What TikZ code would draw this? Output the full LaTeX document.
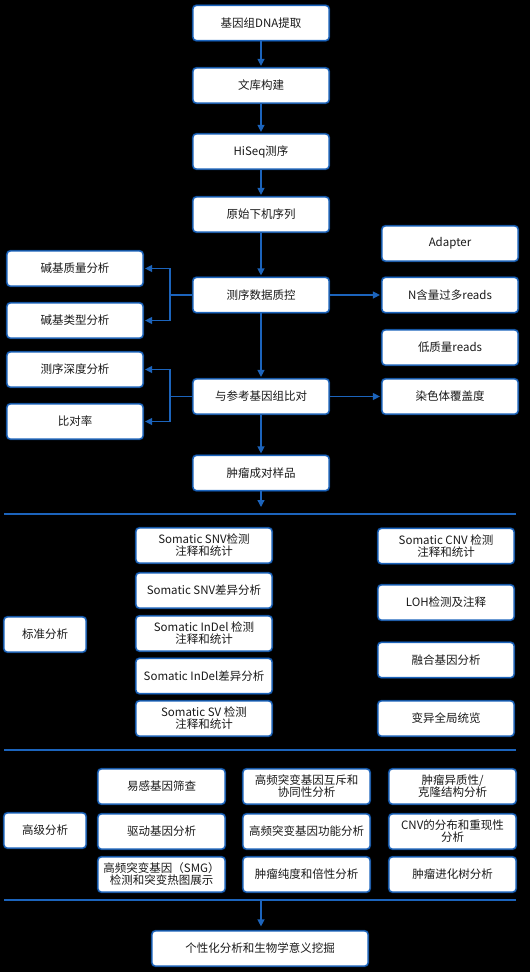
\documentclass[tikz,border=0pt]{standalone}
\usepackage{fontspec}
\setmainfont{Noto Sans CJK SC}
\usetikzlibrary{arrows.meta}
\definecolor{bblue}{HTML}{1C64BC}
\definecolor{bdark}{HTML}{0A3A74}
\definecolor{txt}{HTML}{1A1A1A}
\begin{document}
\begin{tikzpicture}[x=1pt,y=-1pt,
  box/.style={rectangle, rounded corners=3.5pt, fill=white, draw=bblue, line width=1.2pt,
    preaction={draw=bdark, line width=2.4pt},
    minimum height=35pt, inner sep=1pt, align=center, text=txt,
    font=\fontsize{11.5pt}{12pt}\selectfont},
  mw/.style={box, minimum width=136pt},
  cw/.style={box, minimum width=127pt},
  lw/.style={box, minimum width=82pt},
  conn/.style={draw=bblue, line width=1.3pt},
  arr/.style={conn, -{Triangle[length=7pt,width=7pt]}, shorten >=1.5pt},
  sep/.style={draw=bblue, line width=1.5pt}]
\fill[black] (0,0) rectangle (530,972);
\useasboundingbox (0,0) rectangle (530,972);

% main column
\node[mw] (n1) at (261,23) {基因组DNA提取};
\node[mw] (n2) at (261,85.5) {文库构建};
\node[mw] (n3) at (261,151.5) {HiSeq测序};
\node[mw] (n4) at (261,214.5) {原始下机序列};
\node[mw] (n5) at (261,295) {测序数据质控};
\node[mw] (n6) at (261,396.5) {与参考基因组比对};
\node[mw] (n7) at (261,473) {肿瘤成对样品};

% left column
\node[mw] (l1) at (75,268.5) {碱基质量分析};
\node[mw] (l2) at (75,320.5) {碱基类型分析};
\node[mw] (l3) at (75,369.5) {测序深度分析};
\node[mw] (l4) at (75,421.5) {比对率};

% right column
\node[mw] (r1) at (450,243.5) {Adapter};
\node[mw] (r2) at (450,295) {N含量过多reads};
\node[mw] (r3) at (450,347.5) {低质量reads};
\node[mw] (r4) at (450,396.5) {染色体覆盖度};

% vertical arrows
\draw[arr] (n1) -- (n2);
\draw[arr] (n2) -- (n3);
\draw[arr] (n3) -- (n4);
\draw[arr] (n4) -- (n5);
\draw[arr] (n5) -- (n6);
\draw[arr] (n6) -- (n7);
\coordinate (e7) at (261,507);
\draw[arr, shorten >=0pt] (n7) -- (e7);

% left brackets
\coordinate (b1) at (170,295);
\coordinate (b2) at (170,396.5);
\draw[conn] (n5.west) -- (b1);
\draw[arr] (b1) |- (l1.east);
\draw[arr] (b1) |- (l2.east);
\draw[conn] (n6.west) -- (b2);
\draw[arr] (b2) |- (l3.east);
\draw[arr] (b2) |- (l4.east);

% right arrows
\draw[arr] (n5.east) -- (r2.west);
\draw[arr] (n6.east) -- (r4.west);

% separators
\coordinate (s1a) at (4,514); \coordinate (s1b) at (516,514);
\coordinate (s2a) at (4,750); \coordinate (s2b) at (516,750);
\coordinate (s3a) at (4,900); \coordinate (s3b) at (516,900);
\draw[sep] (s1a) -- (s1b);
\draw[sep] (s2a) -- (s2b);
\draw[sep] (s3a) -- (s3b);

% standard analysis
\node[lw] (std) at (45,634.5) {标准分析};
\node[mw] (m1) at (204,545.5) {Somatic SNV检测\\注释和统计};
\node[mw] (m2) at (204,590.5) {Somatic SNV差异分析};
\node[mw] (m3) at (204,633.5) {Somatic InDel 检测\\注释和统计};
\node[mw] (m4) at (204,676) {Somatic InDel差异分析};
\node[mw] (m5) at (204,718.5) {Somatic SV 检测\\注释和统计};
\node[mw] (q1) at (446,546) {Somatic CNV 检测\\注释和统计};
\node[mw] (q2) at (446,602.5) {LOH检测及注释};
\node[mw] (q3) at (446,660) {融合基因分析};
\node[mw] (q4) at (446,718.5) {变异全局统览};

% advanced analysis
\node[lw] (adv) at (45,830.5) {高级分析};
\node[cw] (a1) at (161.5,786.5) {易感基因筛查};
\node[cw] (a2) at (161.5,831.5) {驱动基因分析};
\node[cw] (a3) at (161.5,874.5) {高频突变基因（SMG）\\检测和突变热图展示};
\node[cw] (b1n) at (306.5,786.5) {高频突变基因互斥和\\协同性分析};
\node[cw] (b2n) at (306.5,831.5) {高频突变基因功能分析};
\node[cw] (b3n) at (306.5,874.5) {肿瘤纯度和倍性分析};
\node[cw] (c1) at (452.5,786.5) {肿瘤异质性/\\克隆结构分析};
\node[cw] (c2) at (452.5,831.5) {CNV的分布和重现性\\分析};
\node[cw] (c3) at (452.5,874.5) {肿瘤进化树分析};

% final
\node[box, minimum width=216pt] (fin) at (260,948.5) {个性化分析和生物学意义挖掘};
\coordinate (t3) at (261,900);
\draw[arr, shorten >=4pt] (t3) -- (t3 |- fin.north);
\end{tikzpicture}
\end{document}
